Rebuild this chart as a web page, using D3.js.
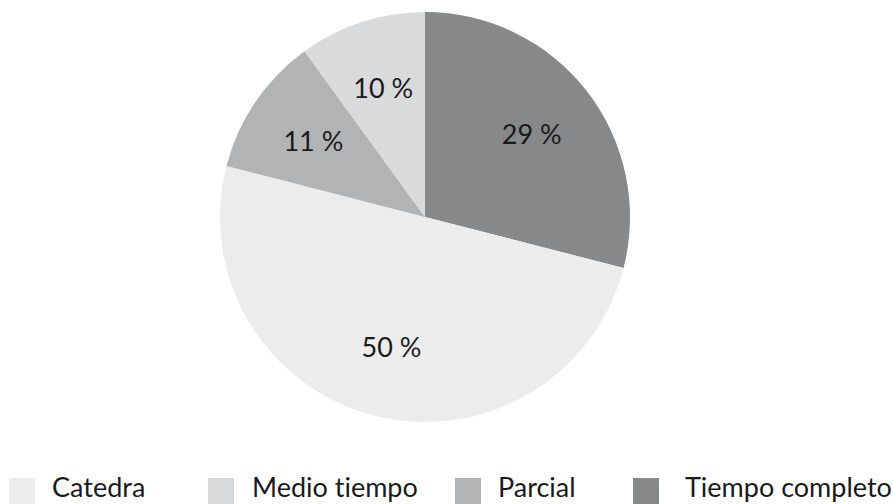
<!DOCTYPE html>
<html>
<head>
<meta charset="utf-8">
<script src="https://cdn.jsdelivr.net/npm/d3@7"></script>
<style>
	body { margin: 0; background: #fff; }
	text { font-family: Lato, "Open Sans", sans-serif; fill: #1a1a1a; font-variant-ligatures: none; font-feature-settings: "liga" 0, "dlig" 0; }
</style>
</head>
<body>
<script>
"use strict";

// legend order
const categories = ["Catedra", "Medio tiempo", "Parcial", "Tiempo completo"];
const colors = ["#ebeceb", "#d9dadc", "#b2b3b5", "#87888a"];
// clockwise from 12 o'clock
const sliceOrder = ["Tiempo completo", "Catedra", "Parcial", "Medio tiempo"];
const values = { "Tiempo completo": 29, "Catedra": 50, "Parcial": 11, "Medio tiempo": 10 };

const w = 893, h = 504;
const cx = 425, cy = 217, radius = 205;
const legendBoxX = [9, 208, 455, 633];
const legendTextX = [52, 252, 498, 685];

const svg = d3.select("body")
	.append("svg")
	.attr("width", w)
	.attr("height", h);

const color = d3.scaleOrdinal()
	.domain(categories)
	.range(colors);

const pie = d3.pie()
	.sort(null)
	.value(d => values[d]);

const arc = d3.arc()
	.innerRadius(0)
	.outerRadius(radius);

const labelArc = d3.arc()
	.innerRadius(135)
	.outerRadius(135);

const chart = svg.append("g")
	.attr("transform", `translate(${cx}, ${cy})`);

const slices = chart.selectAll("g.slice")
	.data(pie(sliceOrder))
	.join("g")
	.classed("slice", true);

slices.append("path")
	.attr("d", arc)
	.attr("fill", d => color(d.data));

slices.append("text")
	.attr("transform", d => `translate(${labelArc.centroid(d)})`)
	.attr("dy", "0.35em")
	.style("text-anchor", "middle")
	.style("font-size", "27px")
	.text(d => `${values[d.data]} %`);

// legend along the bottom
const legend = svg.append("g")
	.selectAll("g")
	.data(categories)
	.join("g");

legend.append("rect")
	.attr("x", (d, i) => legendBoxX[i])
	.attr("y", 478)
	.attr("width", 26)
	.attr("height", 26)
	.attr("fill", d => color(d));

legend.append("text")
	.attr("x", (d, i) => legendTextX[i])
	.attr("y", 497)
	.style("font-size", "27px")
	.text(d => d);
</script>
</body>
</html>
